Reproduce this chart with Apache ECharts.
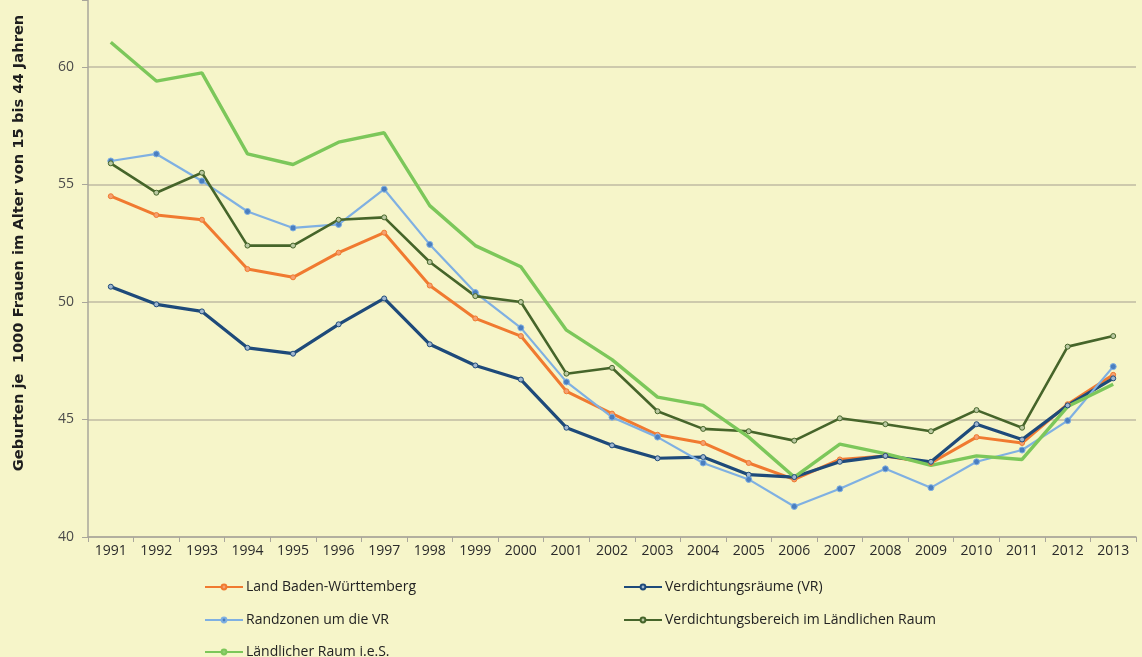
<!DOCTYPE html>
<html>
<head>
<meta charset="utf-8">
<script src="https://cdn.jsdelivr.net/npm/echarts@6/dist/echarts.min.js"></script>
<style>
  html, body { margin: 0; padding: 0; background: #f6f5c9; }
  #chart { width: 1142px; height: 657px; }
</style>
</head>
<body>
<div id="chart"></div>
<script>
// Jahre
const years = ['1991', '1992', '1993', '1994', '1995', '1996', '1997', '1998', '1999', '2000', '2001', '2002',
  '2003', '2004', '2005', '2006', '2007', '2008', '2009', '2010', '2011', '2012', '2013']

// Geburten je 1000 Frauen (15-44 Jahre)
const landBW = [54.5, 53.7, 53.5, 51.4, 51.05, 52.1, 52.95, 50.7, 49.3, 48.55, 46.2, 45.25,
  44.35, 44.0, 43.15, 42.45, 43.3, 43.45, 43.15, 44.25, 44.0, 45.65, 46.9]
const vr = [50.65, 49.9, 49.6, 48.05, 47.8, 49.05, 50.15, 48.2, 47.3, 46.7, 44.65, 43.9,
  43.35, 43.4, 42.65, 42.55, 43.2, 43.45, 43.2, 44.8, 44.15, 45.6, 46.75]
const randzonen = [56.0, 56.3, 55.15, 53.85, 53.15, 53.3, 54.8, 52.45, 50.4, 48.9, 46.6, 45.1,
  44.25, 43.15, 42.45, 41.3, 42.05, 42.9, 42.1, 43.2, 43.7, 44.95, 47.25]
const vbLR = [55.9, 54.65, 55.5, 52.4, 52.4, 53.5, 53.6, 51.7, 50.25, 50.0, 46.95, 47.2,
  45.35, 44.6, 44.5, 44.1, 45.05, 44.8, 44.5, 45.4, 44.65, 48.1, 48.55]
const laendlich = [61.05, 59.4, 59.75, 56.3, 55.85, 56.8, 57.2, 54.1, 52.4, 51.5, 48.8, 47.55,
  45.95, 45.6, 44.25, 42.55, 43.95, 43.55, 43.05, 43.45, 43.3, 45.55, 46.5]

const yTicks = [40, 45, 50, 55, 60]
const yTitle = 'Geburten je  1000 Frauen im Alter von 15 bis 44 Jahren'

const chart = echarts.init(document.getElementById('chart'))

const font = 'Open Sans'
const mkSeries = (name, data, color, width, symColor, symSize) => ({
  name,
  type: 'line',
  data,
  symbol: symSize ? 'circle' : 'none',
  symbolSize: symSize || 0,
  lineStyle: { color, width },
  itemStyle: { color: symColor || color, borderColor: color, borderWidth: 1 },
  emphasis: { disabled: true },
})

// eine Legende je Eintrag, damit die Lage wie im Original passt
const mkLegend = (name, left, top) => ({
  left,
  top,
  padding: 0,
  itemWidth: 38,
  itemHeight: 6,
  itemGap: 0,
  textStyle: { fontFamily: font, fontSize: 14, color: '#222', padding: [0, 0, 0, -2] },
  data: [name],
})

chart.setOption({
  backgroundColor: '#f6f5c9',
  animation: false,
  grid: { left: 88, right: 6, top: 0, bottom: 120 },
  legend: [
    mkLegend('Land Baden-Württemberg', 204, 580),
    mkLegend('Randzonen um die VR', 204, 613),
    mkLegend('Ländlicher Raum i.e.S.', 204, 645),
    mkLegend('Verdichtungsräume (VR)', 623, 580),
    mkLegend('Verdichtungsbereich im Ländlichen Raum', 623, 613),
  ],
  graphic: [{
    type: 'text',
    x: 19,
    y: 243,
    rotation: Math.PI / 2,
    style: {
      text: yTitle,
      fontFamily: 'DejaVu Sans',
      fontWeight: 'bold',
      fontSize: 14.7,
      fill: '#1e1e1e',
      align: 'center',
      verticalAlign: 'middle',
    },
  }],
  xAxis: {
    type: 'category',
    data: years,
    boundaryGap: true,
    axisLine: { lineStyle: { color: '#a9a69a', width: 1.5 } },
    axisTick: { show: true, length: 5, lineStyle: { color: '#a9a69a' } },
    axisLabel: { fontFamily: font, fontSize: 14, color: '#2a2a2a', margin: 7 },
  },
  yAxis: {
    type: 'value',
    min: 40,
    max: 62.85,
    interval: 5,
    axisLine: { show: true, lineStyle: { color: '#a9a69a', width: 1.5 } },
    axisTick: { show: true, length: 6, lineStyle: { color: '#a9a69a' } },
    axisLabel: {
      fontFamily: font, fontSize: 14, color: '#4a4a4a', margin: 14,
      formatter: v => (yTicks.includes(v) ? String(v) : ''),
    },
    splitLine: { show: true, showMaxLine: false, lineStyle: { color: '#cdc9ac', width: 2 } },
  },
  series: [
    mkSeries('Land Baden-Württemberg', landBW, '#f07a30', 3, '#f5a070', 5),
    mkSeries('Verdichtungsräume (VR)', vr, '#1e4a7a', 3.2, '#9fb6cf', 5),
    mkSeries('Randzonen um die VR', randzonen, '#7fb0e2', 2.2, '#4a7ec0', 6),
    mkSeries('Verdichtungsbereich im Ländlichen Raum', vbLR, '#46652a', 2.6, '#b9c8a0', 5),
    mkSeries('Ländlicher Raum i.e.S.', laendlich, '#7cc75a', 3.4, '#8fd070', 0),
  ],
})
</script>
</body>
</html>
